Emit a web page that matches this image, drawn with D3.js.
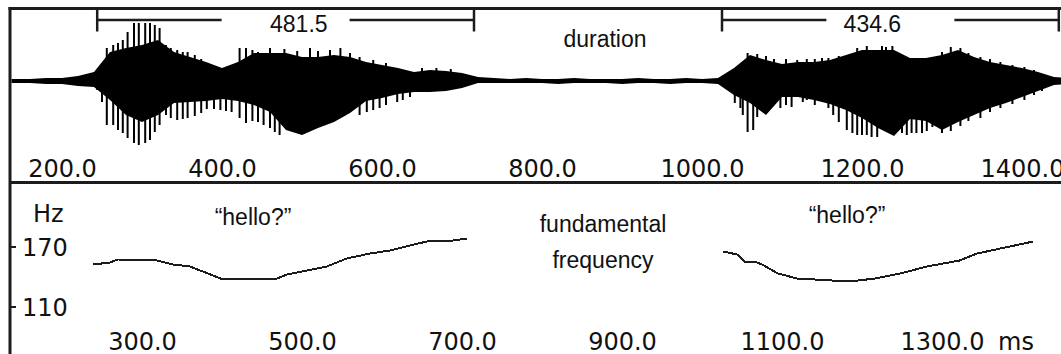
<!DOCTYPE html>
<html>
<head>
<meta charset="utf-8">
<script src="https://cdn.jsdelivr.net/npm/d3@7"></script>
<style>
  html, body { margin: 0; padding: 0; background: #fff; }
  svg { display: block; }
  .lbl { font-family: "Liberation Sans", Arial, sans-serif; font-size: 23px; fill: #111; }
  .ax text, .ax-lbl { font-family: "DejaVu Sans", Verdana, sans-serif; font-size: 24px; fill: #111; }
</style>
</head>
<body>
<div id="chart"></div>
<script>
// time axis tick values (ms)
const topTicks = [200, 400, 600, 800, 1000, 1200, 1400];
const bottomTicks = [300, 500, 700, 900, 1100, 1300];
const hzTicks = [110, 170];

// duration brackets (ms)
const durStart = [244, 1025];
const durEnd = [715, 1446];
const durLabels = ["481.5", "434.6"];
const durLabelTime = [496, 1213];

// waveform envelope, sampled about every 20 ms (arbitrary amplitude units)
const waveTime = [136, 160, 180, 200, 220, 240, 260, 280, 300, 320, 340, 360, 380, 400, 420, 440, 460, 480, 500, 520,
  540, 560, 580, 600, 620, 640, 660, 680, 700, 720, 740, 760, 780, 800, 820, 840, 860, 880, 900, 920,
  940, 960, 980, 1000, 1020, 1040, 1060, 1080, 1100, 1120, 1140, 1160, 1180, 1200, 1220, 1240, 1260, 1280, 1300, 1320,
  1340, 1360, 1380, 1400, 1420, 1440, 1460];
const waveTop = [2, 2, 3, 3, 5, 9, 29, 33, 36, 41, 29, 24, 19, 13, 19, 28, 28, 28, 24, 24,
  26, 24, 19, 16, 13, 9, 11, 10, 8, 4, 3, 2, 3, 2, 2, 3, 2, 2, 2, 3,
  2, 2, 3, 2, 3, 13, 26, 21, 17, 19, 19, 21, 26, 31, 31, 31, 23, 23, 26, 31,
  24, 19, 16, 13, 9, 4, 3];
const waveBottom = [-2, -2, -3, -3, -5, -6, -19, -34, -41, -34, -22, -21, -20, -18, -20, -24, -31, -49, -54, -47,
  -41, -32, -20, -17, -13, -11, -11, -10, -7, -2, -2, -2, -2, -2, -3, -2, -2, -2, -3, -2,
  -2, -3, -2, -2, -3, -14, -22, -34, -16, -16, -19, -23, -29, -37, -47, -55, -38, -40, -49, -41,
  -34, -27, -22, -16, -10, -4, -3];

// glottal pulse spikes that stick out of the envelope
const pulseTime = [244, 250, 256, 264, 270, 276, 282, 290, 296, 304, 310, 316, 322, 330, 336, 344, 351, 357, 366, 374,
  381, 390, 398, 405, 412, 422, 430, 438, 445, 452, 460, 466, 472, 478, 494, 510, 520, 535, 548, 560,
  572, 581, 589, 597, 605, 619, 626, 635, 650, 668, 686,
  1041, 1048, 1051, 1057, 1064, 1069, 1080, 1090, 1098, 1105, 1112, 1119, 1126, 1131, 1141, 1150, 1158, 1164, 1171, 1181,
  1188, 1194, 1200, 1206, 1212, 1219, 1225, 1230, 1238, 1250, 1256, 1262, 1268, 1275, 1281, 1288, 1300, 1311, 1323, 1333,
  1348, 1360, 1373, 1388, 1403, 1415, 1425];
const pulseUp = [0, 0, 33, 36, 38, 41, 49, 58, 58, 58, 58, 56, 53, 36, 33, 31, 29, 29, 26, 22,
  0, 0, 0, 0, 0, 33, 33, 31, 29, 0, 33, 0, 0, 32, 30, 33, 30, 31, 33, 28,
  24, 0, 21, 0, 18, 0, 0, 0, 13, 13, 12,
  0, 0, 0, 28, 0, 27, 25, 22, 0, 22, 0, 21, 0, 22, 22, 23, 23, 0, 25, 0,
  0, 33, 0, 35, 0, 0, 35, 34, 35, 0, 0, 0, 0, 0, 0, 0, 29, 34, 33, 28,
  24, 22, 19, 16, 14, 11, 0];
const pulseDown = [-9, -21, -44, -44, -49, -52, -57, -62, -64, -62, -59, -51, -44, -34, -37, -39, -38, -37, -35, -32,
  -28, -28, -29, -30, -31, -37, -42, -40, -41, -44, -47, -51, -54, 0, 0, 0, 0, 0, 0, 0,
  -34, -31, -29, -27, -24, -21, -19, -16, 0, 0, 0,
  -22, -27, -34, -51, -49, -36, 0, 0, -27, -24, -26, 0, -21, -19, -24, 0, -27, -34, -41, -49,
  -52, -54, -54, -54, -56, -56, 0, 0, 0, -52, -54, -52, -52, -52, -50, -46, -52, -50, -45, -40,
  -37, -31, -27, -23, -19, -14, -10];

// fundamental frequency contours
const f0TimeA = [239, 260, 270, 319, 339, 360, 376, 398, 469, 481, 506, 531, 556, 585, 610, 635, 656, 689, 706];
const f0HzA = [152, 154, 157, 156, 152, 150, 145, 138, 138, 142, 146, 150, 158, 163, 166, 171, 175, 176, 178];
const f0TimeB = [1026, 1044, 1054, 1066, 1075, 1095, 1119, 1185, 1216, 1248, 1281, 1322, 1344, 1373, 1414];
const f0HzB = [165, 162, 154, 155, 152, 143, 138, 135, 138, 143, 150, 156, 163, 168, 175];

const W = 1061, H = 354;
const ink = '#1c1c1c';

const svg = d3.select('#chart').append('svg')
  .attr('width', W)
  .attr('height', H);

const x = d3.scaleLinear().domain([200, 1400]).range([62, 1022]);
const yWave = d3.scaleLinear().domain([-70, 70]).range([151, 11]);
const yHz = d3.scaleLinear().domain([110, 170]).range([306.5, 246.5]);

svg.append('clipPath').attr('id', 'plot-clip')
  .append('rect').attr('x', 11.5).attr('y', 10).attr('width', W).attr('height', H);

const plot = svg.append('g').attr('clip-path', 'url(#plot-clip)');

// waveform body
const wave = waveTime.map((t, i) => ({ t, top: waveTop[i], bot: waveBottom[i] }));
const area = d3.area()
  .x(d => x(d.t))
  .y0(d => yWave(d.bot))
  .y1(d => yWave(d.top));

plot.append('path')
  .datum(wave)
  .attr('d', area)
  .attr('fill', '#000');

// pulse spikes
const pulses = pulseTime.map((t, i) => ({ t, up: pulseUp[i], down: pulseDown[i] }));
plot.selectAll('.pulse')
  .data(pulses)
  .enter()
  .append('line')
  .attr('class', 'pulse')
  .attr('x1', d => x(d.t))
  .attr('x2', d => x(d.t))
  .attr('y1', d => yWave(d.up))
  .attr('y2', d => yWave(d.down))
  .attr('stroke', '#000')
  .attr('stroke-width', 2);

// f0 contours
const f0Line = d3.line()
  .x(d => x(d.t))
  .y(d => yHz(d.hz));

[[f0TimeA, f0HzA], [f0TimeB, f0HzB]].forEach(([ts, hz]) => {
  plot.append('path')
    .datum(ts.map((t, i) => ({ t, hz: hz[i] })))
    .attr('d', f0Line)
    .attr('fill', 'none')
    .attr('stroke', ink)
    .attr('stroke-width', 2)
    .attr('shape-rendering', 'crispEdges');
});

// duration brackets
const gapHalf = 64;
durStart.forEach((s, i) => {
  const x0 = x(s), x1 = x(durEnd[i]);
  const mid = (x0 + x1) / 2;
  const b = svg.append('g').attr('stroke', ink).attr('stroke-width', 2.5);
  b.append('line').attr('x1', x0).attr('x2', mid - gapHalf).attr('y1', 20).attr('y2', 20);
  b.append('line').attr('x1', mid + gapHalf).attr('x2', x1).attr('y1', 20).attr('y2', 20);
  b.append('line').attr('x1', x0).attr('x2', x0).attr('y1', 9).attr('y2', 31.5);
  b.append('line').attr('x1', x1).attr('x2', x1).attr('y1', 9).attr('y2', 31.5);
  svg.append('text').attr('class', 'lbl')
    .attr('x', x(durLabelTime[i])).attr('y', 32)
    .attr('text-anchor', 'middle')
    .text(durLabels[i]);
});

// frame
svg.append('line').attr('x1', 8.5).attr('x2', W).attr('y1', 8.5).attr('y2', 8.5)
  .attr('stroke', ink).attr('stroke-width', 3);
svg.append('line').attr('x1', 10).attr('x2', 10).attr('y1', 7).attr('y2', H)
  .attr('stroke', ink).attr('stroke-width', 3);
svg.append('line').attr('x1', 10).attr('x2', W).attr('y1', 182.5).attr('y2', 182.5)
  .attr('stroke', ink).attr('stroke-width', 3);

// time axes
const fmt = d3.format('.1f');
function timeAxis(ticks, baseline) {
  const g = svg.append('g')
    .attr('class', 'ax')
    .attr('transform', `translate(0,${baseline})`)
    .call(d3.axisBottom(x).tickValues(ticks).tickSize(0).tickFormat(fmt));
  g.select('.domain').remove();
  g.selectAll('text').attr('y', 0).attr('dy', 0).attr('fill', '#111');
  return g;
}
timeAxis(topTicks, 177);
timeAxis(bottomTicks, 350);

svg.append('text').attr('class', 'ax-lbl')
  .attr('x', x(1300) + 56).attr('y', 350)
  .text('ms');

// Hz axis
const yAx = svg.append('g')
  .attr('class', 'ax')
  .attr('transform', 'translate(10,0)')
  .call(d3.axisRight(yHz).tickValues(hzTicks).tickSize(6).tickPadding(6));
yAx.select('.domain').remove();
yAx.selectAll('line').attr('stroke', ink).attr('stroke-width', 2);
yAx.selectAll('text').attr('dy', '0.36em').attr('fill', '#111');

svg.append('text').attr('class', 'ax-lbl')
  .attr('x', 33).attr('y', 222)
  .text('Hz');

// annotations
const notes = [
  { t: 'duration', x: 605, y: 47 },
  { t: '\u201chello?\u201d', x: 253, y: 225 },
  { t: '\u201chello?\u201d', x: 847, y: 223 },
  { t: 'fundamental', x: 603, y: 232 },
  { t: 'frequency', x: 603, y: 268 }
];
svg.selectAll('.note')
  .data(notes)
  .enter()
  .append('text')
  .attr('class', 'lbl note')
  .attr('x', d => d.x)
  .attr('y', d => d.y)
  .attr('text-anchor', 'middle')
  .text(d => d.t);
</script>
</body>
</html>
